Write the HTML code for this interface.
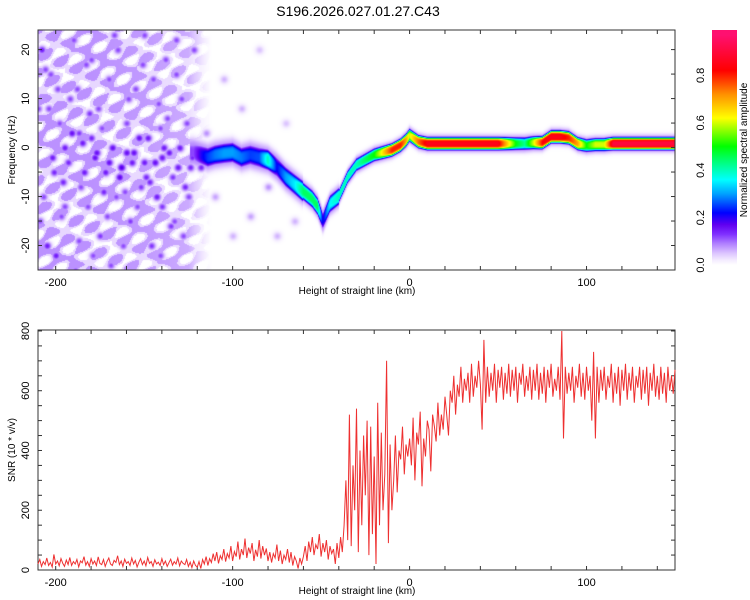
<!DOCTYPE html>
<html><head><meta charset="utf-8"><style>
body{margin:0;background:#fff;width:750px;height:600px;overflow:hidden;font-family:"Liberation Sans",sans-serif}
#wrap{position:relative;width:750px;height:600px}
canvas{position:absolute;left:38px;top:30px}
svg{position:absolute;left:0;top:0}
</style></head><body>
<div id="wrap">
<canvas id="spec" width="637" height="240"></canvas>
<svg id="svg" width="750" height="600"></svg>
</div>
<script>
// ---- data ----
const ridgeX=[-122,-118,-114,-110,-105,-100,-95,-90,-85,-80,-75,-70,-65,-60,-55,-52,-49,-45,-40,-35,-30,-25,-20,-15,-10,-5,-2,0,5,10,30,50,60,65,70,75,80,85,90,95,100,105,110,115,130,150];
const ridgeF=[-1,-1.5,-2,-1.5,-1.2,-1,-2,-1.5,-2,-2.5,-4,-6,-7.5,-9,-10.5,-12,-15,-11.5,-10,-6,-3.5,-2.5,-1.5,-1,-0.5,0.5,1.5,2.5,1.2,0.8,0.8,0.8,0.8,0.8,1,1,2.2,2.2,2,0.8,0.4,0.6,0.6,0.8,0.8,0.8];
const ridgeA=[0.12,0.2,0.25,0.28,0.3,0.3,0.28,0.25,0.26,0.4,0.22,0.3,0.35,0.45,0.45,0.45,0.2,0.36,0.4,0.4,0.4,0.45,0.5,0.65,0.8,0.8,0.7,0.6,0.75,0.85,0.85,0.85,0.5,0.42,0.6,0.82,0.85,0.85,0.8,0.7,0.5,0.6,0.6,0.9,0.9,0.9];
const blobX=[-208,-205,-203,-200,-198,-195,-193,-190,-188,-186,-185,-182,-180,-178,-176,-175,-172,-170,-168,-166,-165,-163,-160,-158,-156,-155,-152,-150,-148,-146,-144,-142,-140,-138,-136,-134,-132,-130,-128,-126,-124,-122,-207,-204,-201,-197,-192,-189,-187,-183,-179,-174,-171,-167,-162,-159,-154,-149,-145,-141,-137,-133,-129,-125,-121,-118,-115,-110,-105,-100,-95,-90,-85,-80,-75,-70,-65,-170,-160,-150,-140,-180,-195,-210,-209,-202,-196,-191,-184,-177,-173,-164,-157,-153,-147,-143,-139,-135,-131,-127,-123,-206,-199,-187,-181,-169,-161,-151,-141,-132];
const blobF=[20,-20,15,-22,5,0,-3,22,12,-8,1,-12,18,-2,8,-18,-5,14,0,-10,20,-4,5,-15,-1,12,-8,23,2,-20,-3,9,-12,18,-1,-6,15,0,-18,5,-4,20,-10,8,-5,-14,10,-25,3,17,-22,4,-14,23,-20,10,-12,-6,14,-22,6,-15,10,-10,-2,-4,3,-10,14,-18,8,-14,20,-8,-18,5,-15,-3,-1,-3,-2,2,-12,8,-15,-2,-7,3,-5,-1,-9,-6,-3,2,-7,-10,0,-16,-4,-8,-2,16,12,-19,7,-24,-9,17,4,22];
const blobA=[.15,.15,.12,.15,.12,.15,.14,.12,.12,.12,.15,.12,.12,.16,.12,.13,.15,.12,.16,.12,.12,.18,.12,.13,.16,.12,.13,.12,.15,.13,.16,.12,.13,.12,.15,.13,.12,.15,.12,.12,.14,.12,.12,.12,.14,.12,.12,.12,.13,.12,.12,.12,.12,.12,.12,.12,.12,.14,.12,.12,.12,.12,.12,.12,.13,.14,.08,.07,.06,.06,.06,.07,.05,.08,.06,.05,.06,.16,.16,.15,.15,.14,.12,.12,.12,.15,.14,.16,.15,.16,.14,.17,.15,.16,.14,.15,.15,.13,.15,.14,.14,.12,.12,.12,.13,.12,.12,.12,.12,.12];
const bgBinX=[-210,-180,-150,-125,-118,-112,150];
const bgLevel=[0.08,0.08,0.075,0.065,0.03,0,0];
const snr=[20,35,12,28,18,40,15,25,10,52,20,30,14,38,22,12,33,18,42,15,28,20,35,10,30,24,45,16,28,12,38,20,30,15,44,22,18,35,12,28,40,20,15,32,25,48,18,30,12,36,22,28,15,40,20,32,10,26,38,18,30,14,42,22,28,12,34,20,26,15,38,18,30,12,24,36,16,28,20,40,14,30,22,18,35,12,26,8,30,15,
10,28,5,35,20,45,15,38,25,55,30,60,22,48,35,70,28,55,40,80,30,62,45,95,35,70,50,105,40,75,55,90,30,68,45,100,38,80,50,72,30,60,25,55,40,85,30,65,20,50,35,70,25,60,15,45,30,5,40,20,
45,80,30,95,60,110,50,85,70,120,45,90,60,100,35,80,55,70,20,90,40,110,60,
150,300,100,520,80,350,200,540,60,400,150,450,250,500,50,480,120,380,20,560,150,460,200,320,700,90,420,200,
300,450,260,400,370,480,320,420,380,440,350,510,300,460,420,530,280,440,380,500,470,330,520,480,430,560,450,520,470,580,
520,450,600,560,650,520,620,580,680,560,640,600,660,560,690,580,650,610,700,620,
470,770,560,680,580,660,600,690,560,670,610,680,570,660,590,690,580,670,600,680,560,660,620,690,580,650,600,680,570,670,600,690,570,660,590,680,560,670,610,690,580,640,600,680,570,800,440,680,590,660,600,680,560,650,610,690,580,660,570,680,600,650,500,730,440,680,560,670,600,680,570,650,610,690,560,660,590,680,550,670,600,690,570,660,600,680,560,650,610,680,570,670,590,680,550,660,600,690,580,650,570,680,590,660,560,680,600,650,590,670];
const xTicks=[-200,-100,0,100];
const fTicks=[-20,-10,0,10,20];
const snrTicks=[0,200,400,600,800];
const cbTicks=[0.0,0.2,0.4,0.6,0.8];
// ---- scales ----
const X0=38,X1=675,XMIN=-210,XMAX=150;
const xS=k=>X0+(k-XMIN)/(XMAX-XMIN)*(X1-X0);
const yF=f=>30+(24-f)/49*240;
const yS=v=>570-v*0.2988;
const yC=v=>265-v*237;
const cmapV=[0,0.02,0.05,0.09,0.13,0.17,0.22,0.3,0.36,0.45,0.5,0.62,0.72,0.82,0.97,1.2];
const cmapC=[[255,255,255],[244,236,255],[220,196,255],[176,128,255],[128,48,255],[96,0,240],[0,0,255],[0,160,255],[0,255,255],[0,255,96],[0,255,0],[255,255,0],[255,144,0],[255,0,0],[255,16,112],[255,16,112]];
function cmap(v){if(v<=0)return[255,255,255];for(let i=1;i<cmapV.length;i++){if(v<=cmapV[i]){const t=(v-cmapV[i-1])/(cmapV[i]-cmapV[i-1]);const a=cmapC[i-1],b=cmapC[i];return[a[0]+(b[0]-a[0])*t,a[1]+(b[1]-a[1])*t,a[2]+(b[2]-a[2])*t];}}return cmapC[cmapC.length-1];}
function interp(xs,ys,x){if(x<=xs[0])return ys[0];for(let i=1;i<xs.length;i++)if(x<=xs[i]){const t=(x-xs[i-1])/(xs[i]-xs[i-1]);return ys[i-1]+(ys[i]-ys[i-1])*t;}return ys[ys.length-1];}
// ---- spectrogram ----
const cv=document.getElementById('spec'),ctx=cv.getContext('2d');
const W=cv.width,H=cv.height,img=ctx.createImageData(W,H);
const bx=blobX.map(k=>xS(k)-X0),by=blobF.map(f=>yF(f)-30);
for(let px=0;px<W;px++){const k=XMIN+(px+0.5)/W*(XMAX-XMIN);
 const hasR=k>=ridgeX[0]-2;const F=interp(ridgeX,ridgeF,k),A=interp(ridgeX,ridgeA,k);const bg=interp(bgBinX,bgLevel,k);
 const w=k<-60?1.9:(k<-40?1.6:1.2);
 for(let py=0;py<H;py++){const f=24-(py+0.5)/H*49;let v=0;
  const m=Math.cos(px*0.31+py*0.17)+Math.cos(px*0.13-py*0.29)+Math.cos(px*0.23+py*0.41+1.3);
  v=bg*(m>0.3?1:(m>-0.8?0.45:0));
  if(hasR){const d=(f-F);v=Math.max(v,A*Math.exp(-Math.pow(d/w,4)),0.09*Math.exp(-Math.pow(d/(w*1.6),4)));}
  for(let b=0;b<bx.length;b++){const dx=px-bx[b];if(dx>8||dx<-8)continue;const dy=py-by[b];if(dy>8||dy<-8)continue;v=Math.max(v,blobA[b]*Math.exp(-(dx*dx+dy*dy)/18));}
  const c=cmap(v),i=(py*W+px)*4;img.data[i]=c[0];img.data[i+1]=c[1];img.data[i+2]=c[2];img.data[i+3]=255;}}
ctx.putImageData(img,0,0);
// ---- svg ----
const svg=document.getElementById('svg');const NS='http://www.w3.org/2000/svg';
function el(t,a,p){const e=document.createElementNS(NS,t);for(const k in a)e.setAttribute(k,a[k]);(p||svg).appendChild(e);return e;}
function txt(s,a){const e=el('text',Object.assign({'font-family':'Liberation Sans, sans-serif','font-size':11,fill:'#000'},a));e.textContent=s;return e;}
const title=txt('S196.2026.027.01.27.C43',{x:358,y:16,'text-anchor':'middle','font-size':14});

function frame(top,bot,yTickVals,yFn,yMinorStep,yMin,yMax,name){
 const g=el('g',{});
 el('rect',{x:X0,y:top,width:X1-X0,height:bot-top,fill:'none',stroke:'#333','stroke-width':1},g);
 for(let k=-200;k<=140;k+=20){const x=xS(k);el('line',{x1:x,x2:x,y1:bot,y2:bot-4,stroke:'#333'},g);el('line',{x1:x,x2:x,y1:top,y2:top+4,stroke:'#333'},g);}
 for(let v=yMin;v<=yMax;v+=yMinorStep){const y=yFn(v);if(y<top||y>bot)continue;el('line',{x1:X0,x2:X0+4,y1:y,y2:y,stroke:'#333'},g);el('line',{x1:X1,x2:X1-4,y1:y,y2:y,stroke:'#333'},g);}
 xTicks.forEach(k=>{const t=txt(String(k),{x:xS(k),y:bot+16,'text-anchor':'middle'});});
 const xt=txt('Height of straight line (km)',{x:357,y:bot+24,'text-anchor':'middle','font-size':10});
 yTickVals.forEach(v=>{const y=yFn(v);const t=txt(String(v),{x:0,y:0,'text-anchor':'middle',transform:`translate(29,${y}) rotate(-90)`});});
}
frame(30,270,fTicks,yF,5,-25,25,'spectrogram-axes');
const yt1=txt('Frequency (Hz)',{x:0,y:0,'text-anchor':'middle','font-size':10,transform:'translate(15,150) rotate(-90)'});

frame(330,570,snrTicks,yS,50,0,800,'snr-axes');
const yt2=txt('SNR (10 * v/v)',{x:0,y:0,'text-anchor':'middle','font-size':10,transform:'translate(15,450) rotate(-90)'});

// SNR line
const step=(XMAX-XMIN)/(snr.length-1);
let d='';snr.forEach((v,i)=>{d+=(i?'L':'M')+xS(XMIN+i*step).toFixed(1)+','+Math.max(yS(v),330).toFixed(1);});
const line=el('path',{d:d,fill:'none',stroke:'#ee3030','stroke-width':1});

// colorbar
const defs=el('defs',{});const lg=el('linearGradient',{id:'cb',x1:0,y1:1,x2:0,y2:0},defs);
const vTop=(265-30)/237;
cmapV.forEach((v,i)=>{if(v>vTop+0.01)return;const c=cmapC[i];el('stop',{offset:((v*237+5)/240).toFixed(3),'stop-color':`rgb(${c[0]},${c[1]},${c[2]})`},lg);});
const cb=el('rect',{x:712,y:30,width:25,height:240,fill:'url(#cb)'});

cbTicks.forEach(v=>{const y=yC(v);const t=txt(v.toFixed(1),{x:0,y:0,'text-anchor':'middle',transform:`translate(704,${y}) rotate(-90)`});});
const cbt=txt('Normalized spectral amplitude',{x:0,y:0,'text-anchor':'middle','font-size':10,transform:'translate(747,150) rotate(-90)'});

</script>
</body></html>
